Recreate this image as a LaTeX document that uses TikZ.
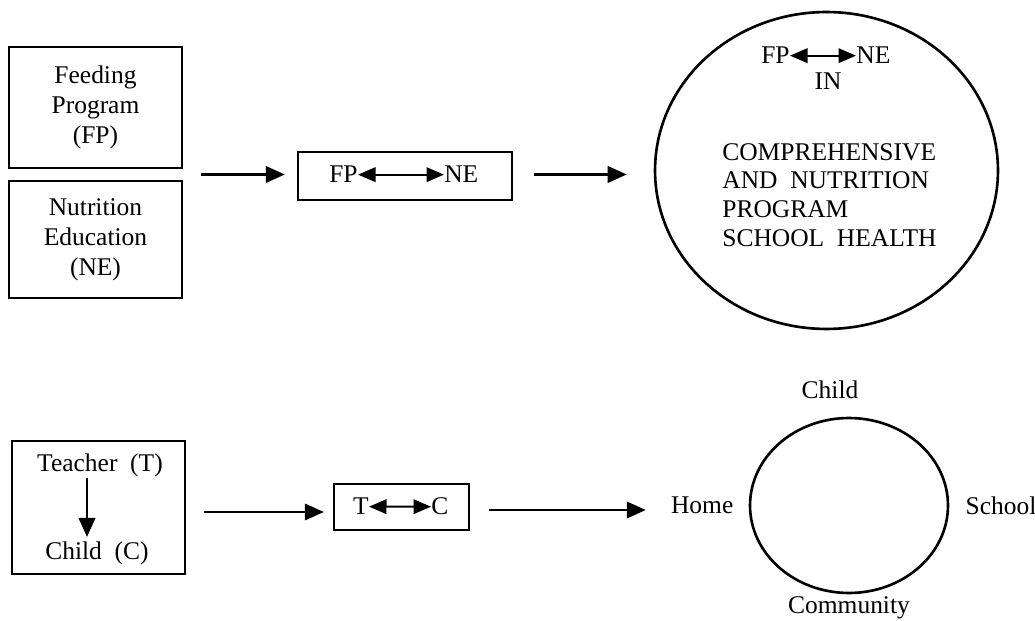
\documentclass[tikz,border=0pt]{standalone}
\usepackage{fontspec}
\setmainfont{Liberation Serif}
\usetikzlibrary{arrows.meta, positioning, calc, shapes.geometric}
\tikzset{
  box/.style={draw, line width=1.4pt, align=center, inner sep=0pt, font=\fontsize{14.5}{17}\selectfont},
  ring/.style={draw, ellipse, line width=1.5pt, inner sep=0pt},
  lbl/.style={inner sep=0pt, font=\fontsize{14.5}{17}\selectfont},
  arrow/.style={-{Triangle[length=3.8mm, width=3.3mm]}, line width=1.3pt},
  dblarrow/.style={{Triangle[length=3.5mm, width=2.9mm]}-{Triangle[length=3.5mm, width=2.9mm]}, line width=1.1pt}
}

\begin{document}
\begin{tikzpicture}[x=0.02cm, y=-0.02cm]
\useasboundingbox (0,0) rectangle (1035,621);
% top row
\node[box, minimum width=3.46cm, minimum height=2.42cm] (fp) at (95.5,107.5) {Feeding\\Program\\(FP)};
\node[box, minimum width=3.46cm, minimum height=2.34cm] (ne) at (95.5,239.5) {Nutrition\\Education\\(NE)};
\coordinate (pair) at ($(fp.south east)!0.5!(ne.north east)$);
\node[box, minimum width=4.28cm, minimum height=0.96cm] (fpne) at (405,176) {};
\node[lbl, anchor=base east] (fpa) at (358,183) {FP};
\node[lbl, anchor=base west] (nea) at (444,183) {NE};
\draw[dblarrow] (fpa) -- (nea);
\node[ring, minimum width=6.86cm, minimum height=6.34cm] (health) at (826.5,170.5) {};
\node[lbl, anchor=base east] (fpb) at (790,64) {FP};
\node[lbl, anchor=base west] (neb) at (856,64) {NE};
\draw[dblarrow] (fpb) -- (neb);
\node[lbl, anchor=base] (in) at (828,90) {IN};
\node[lbl, anchor=north west, align=left, font=\fontsize{14.5}{16.3}\selectfont] (program) at (722,143)
  {COMPREHENSIVE\\AND\hspace{0.5em}NUTRITION\\PROGRAM\\SCHOOL\hspace{0.5em}HEALTH};
\draw[arrow, shorten <=0.36cm, shorten >=0.24cm] (pair) -- (pair -| fpne.west);
\draw[arrow, shorten <=0.42cm, shorten >=0.54cm] (pair -| fpne.east) -- (pair -| health.west);
% bottom row
\node[box, minimum width=3.46cm, minimum height=2.66cm] (teach) at (98.5,507.5) {};
\node[lbl, anchor=base] (teacher) at (100,472) {Teacher\hspace{0.5em}(T)};
\node[lbl, anchor=base] (child) at (97,560) {Child\hspace{0.5em}(C)};
\coordinate (down) at (87,500);
\draw[arrow, shorten >=0.1cm] (teacher.south -| down) -- (child.north -| down);
\node[box, minimum width=2.7cm, minimum height=0.92cm] (tc) at (401.5,507) {};
\node[lbl, anchor=base east] (ta) at (369,515) {T};
\node[lbl, anchor=base west] (ca) at (431,515) {C};
\draw[dblarrow] (ta) -- (ca);
\node[ring, minimum width=3.96cm, minimum height=3.5cm] (world) at (849,505.5) {};
\node[lbl, anchor=base] (kid) at (830,399) {Child};
\node[lbl, left=0.3cm of world] (home) {Home};
\node[lbl, right=0.32cm of world] (school) {School};
\node[lbl, below=0.04cm of world] (community) {Community};
\draw[arrow, shorten <=0.36cm, shorten >=0.18cm] ([yshift=-0.09cm]teach.east) -- ([yshift=-0.09cm]teach.east -| tc.west);
\draw[arrow, shorten <=0.38cm, shorten >=0.5cm] ([yshift=-0.06cm]tc.east) -- ([yshift=-0.06cm]tc.east -| home.west);
\end{tikzpicture}
\end{document}
